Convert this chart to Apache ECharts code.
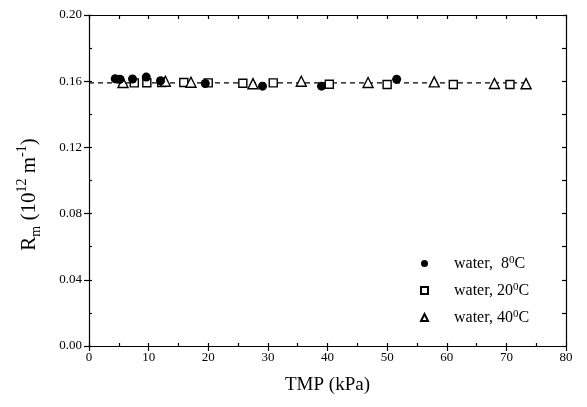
<!DOCTYPE html>
<html><head><meta charset="utf-8">
<script src="https://cdn.jsdelivr.net/npm/echarts@6/dist/echarts.min.js"></script>
<style>html,body{margin:0;padding:0;background:#fff}#c{width:587px;height:407px}</style>
</head><body><div id="c"></div>
<script>
// Data
var seriesNames = ['water, 8\u2070C', 'water, 20\u2070C', 'water, 40\u2070C'];
var water8X = [4.4, 5.2, 7.3, 9.6, 12.0, 19.5, 29.1, 39.0, 51.6];
var water8Y = [0.1615, 0.1612, 0.1613, 0.1625, 0.1603, 0.1586, 0.1570, 0.1570, 0.1612];
var water20X = [7.6, 9.7, 12.2, 15.9, 20.0, 25.8, 30.9, 40.3, 50.0, 61.1, 70.6];
var water20Y = [0.1590, 0.1591, 0.1592, 0.1592, 0.1590, 0.1588, 0.1590, 0.1582, 0.1580, 0.1580, 0.1580];
var water40X = [5.7, 12.8, 17.1, 27.5, 35.6, 46.8, 57.9, 68.0, 73.3];
var water40Y = [0.1592, 0.1600, 0.1594, 0.1585, 0.1600, 0.1592, 0.1596, 0.1586, 0.1585];
var fitX = [0, 73.5];
var fitY = [0.1590, 0.1590];
var xTicks = [0, 10, 20, 30, 40, 50, 60, 70, 80];
var yTicks = ['0.00', '0.04', '0.08', '0.12', '0.16', '0.20'];

function pairs(xs, ys) { return xs.map(function (x, i) { return [x, ys[i]]; }); }

var FONT = 'Liberation Serif';
var chart = echarts.init(document.getElementById('c'), null, { renderer: 'canvas' });
var lineStyle = { color: '#000', width: 1.2 };
var noLbl = { show: false };
chart.setOption({
  animation: false,
  backgroundColor: '#fff',
  grid: { left: 89, right: 21, top: 15, bottom: 61 },
  legend: {
    data: ['w8', 'w20', 'w40'],
    orient: 'vertical', left: 415, top: 250, itemWidth: 7, itemHeight: 7, itemGap: 10,
    formatter: function (n) {
      var m = { w8: ['water,  8', 'C'], w20: ['water, 20', 'C'], w40: ['water, 40', 'C'] }[n];
      return '{t|' + m[0] + '}{s|0}{t|' + m[1] + '}';
    },
    textStyle: {
      fontFamily: FONT, fontSize: 16, color: '#000', padding: [0, 0, 0, 21],
      rich: {
        t: { fontFamily: FONT, fontSize: 16, color: '#000', lineHeight: 17, verticalAlign: 'bottom' },
        s: { fontFamily: FONT, fontSize: 11, color: '#000', lineHeight: 17, verticalAlign: 'top' }
      }
    }
  },
  xAxis: [
    { type: 'value', position: 'bottom', min: 0, max: 80, interval: 10,
      axisLine: { show: true, onZero: false, lineStyle: lineStyle },
      axisTick: { show: true, inside: false, length: 5, lineStyle: lineStyle },
      axisLabel: { fontFamily: FONT, fontSize: 13, color: '#000', margin: 5,
        formatter: function (v) { return xTicks.indexOf(v) >= 0 ? String(v) : ''; } },
      splitLine: { show: false },
      name: 'TMP (kPa)', nameLocation: 'middle', nameGap: 30,
      nameTextStyle: { fontFamily: FONT, fontSize: 19, color: '#000' } },
    { type: 'value', position: 'bottom', min: 0, max: 80, interval: 5, gridIndex: 0,
      axisLine: { show: false, onZero: false }, axisTick: { show: true, inside: true, length: 3, lineStyle: lineStyle },
      axisLabel: noLbl, splitLine: { show: false } },
    { type: 'value', position: 'top', min: 0, max: 80, interval: 5,
      axisLine: { show: true, onZero: false, lineStyle: lineStyle },
      axisTick: { show: true, inside: true, length: 4, lineStyle: lineStyle },
      axisLabel: noLbl, splitLine: { show: false } }
  ],
  yAxis: [
    { type: 'value', position: 'left', min: 0, max: 0.2, interval: 0.04,
      axisLine: { show: true, onZero: false, lineStyle: lineStyle },
      axisTick: { show: true, inside: false, length: 5, lineStyle: lineStyle },
      axisLabel: { fontFamily: FONT, fontSize: 13, color: '#000', margin: 7,
        formatter: function (v) { var s = v.toFixed(2); return yTicks.indexOf(s) >= 0 ? s : ''; } },
      splitLine: { show: false },
      name: '{b|R}{d|m}{b| (10}{u|12}{b| m}{u|-1}{b|)}', nameLocation: 'middle', nameGap: 46, nameRotate: 90,
      nameTextStyle: {
        fontFamily: FONT, fontSize: 21, color: '#000', padding: [0, 28, 0, 0],
        rich: {
          b: { fontFamily: FONT, fontSize: 21, color: '#000', lineHeight: 28, verticalAlign: 'middle' },
          d: { fontFamily: FONT, fontSize: 14, color: '#000', lineHeight: 28, verticalAlign: 'bottom' },
          u: { fontFamily: FONT, fontSize: 14, color: '#000', lineHeight: 28, verticalAlign: 'top' }
        }
      } },
    { type: 'value', position: 'left', min: 0, max: 0.2, interval: 0.02,
      axisLine: { show: false, onZero: false }, axisTick: { show: true, inside: true, length: 3, lineStyle: lineStyle },
      axisLabel: noLbl, splitLine: { show: false } },
    { type: 'value', position: 'right', min: 0, max: 0.2, interval: 0.02,
      axisLine: { show: true, onZero: false, lineStyle: lineStyle },
      axisTick: { show: true, inside: true, length: 4, lineStyle: lineStyle },
      axisLabel: noLbl, splitLine: { show: false } }
  ],
  series: [
    { name: 'fit', type: 'line', data: pairs(fitX, fitY), symbol: 'none', silent: true,
      lineStyle: { color: '#000', width: 1.2, type: [5, 4] }, z: 1 },
    { name: 'w8', type: 'scatter', data: pairs(water8X, water8Y), symbol: 'circle', symbolSize: 9,
      itemStyle: { color: '#000', opacity: 1 }, z: 3 },
    { name: 'w20', type: 'scatter', data: pairs(water20X, water20Y), symbol: 'rect', symbolSize: 8,
      itemStyle: { color: '#fff', borderColor: '#000', borderWidth: 1.4, opacity: 1 }, z: 2 },
    { name: 'w40', type: 'scatter', data: pairs(water40X, water40Y), symbol: 'triangle', symbolSize: 10,
      itemStyle: { color: '#fff', borderColor: '#000', borderWidth: 1.4, opacity: 1 }, z: 2 }
  ]
});
</script></body></html>
